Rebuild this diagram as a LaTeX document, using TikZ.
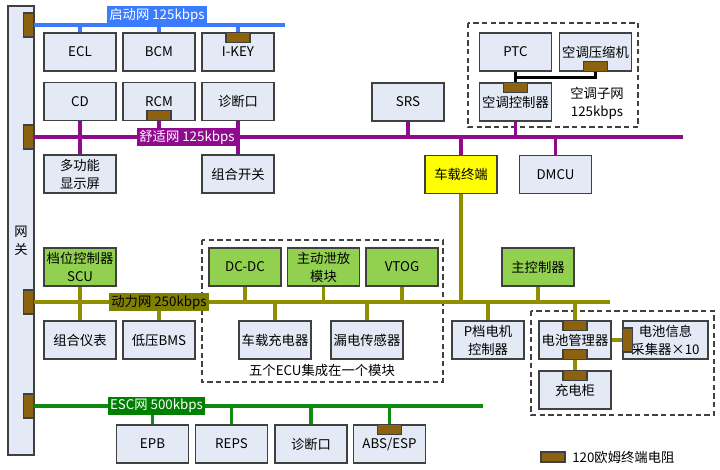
\documentclass[tikz,border=0pt]{standalone}
\usepackage{fontspec}
\setmainfont{Noto Sans CJK SC}
\usetikzlibrary{positioning}

\definecolor{boxfill}{HTML}{E4EAF5}
\definecolor{boxline}{HTML}{404040}
\definecolor{ecugreen}{HTML}{92D050}
\definecolor{tboxyellow}{HTML}{FFFF00}
\definecolor{termbrown}{HTML}{8C6210}
\definecolor{qdblue}{HTML}{3A7BFF}
\definecolor{sspurple}{HTML}{8E0B8E}
\definecolor{dlolive}{HTML}{8F8F00}
\definecolor{dlshade}{HTML}{7F7F00}
\definecolor{escgreen}{HTML}{0E8A0E}
\definecolor{escshade}{HTML}{008000}

\tikzset{
  every node/.style={font=\fontsize{10pt}{13.5pt}\selectfont, align=center},
  ecu/.style={draw=boxline, fill=boxfill, line width=1.3pt, minimum width=54pt,
    minimum height=28.5pt, inner sep=0pt},
  ecugreen/.style={ecu, fill=ecugreen},
  term/.style={draw=boxline, fill=termbrown, line width=0.8pt, minimum width=18pt,
    minimum height=7.5pt, inner sep=0pt},
  termv/.style={term, minimum width=7.5pt, minimum height=18pt},
  buslabel/.style={inner sep=1.5pt, minimum height=14pt, text=white},
  qdbus/.style={draw=qdblue, line width=2.3pt},
  ssbus/.style={draw=sspurple, line width=2.3pt},
  dlbus/.style={draw=dlolive, line width=2.3pt},
  escbus/.style={draw=escgreen, line width=2.3pt},
  acbus/.style={draw=black, line width=2.2pt},
  group/.style={draw=boxline, line width=0.9pt, dash pattern=on 4pt off 2.5pt},
}

\begin{document}
\begin{tikzpicture}[x=0.75pt,y=-0.75pt]
\useasboundingbox (0,0) rectangle (720,469);

% gateway
\node[ecu, minimum width=19.5pt, minimum height=336.75pt] (gw) at (21,230.5) {};
\node (gwtext) at (21,241) {网\\关};
\node[termv, anchor=east] (gwqd) at (34,25) {};
\node[termv, anchor=east] (gwss) at (34,137) {};
\node[termv, anchor=east] (gwdl) at (34,302) {};
\node[termv, anchor=east] (gwesc) at (34,406) {};

% start network
\node[ecu] (ecl) at (80,52) {ECL};
\node[ecu] (bcm) at (159,52) {BCM};
\node[ecu] (ikey) at (238,52) {I-KEY};
\node[term, anchor=north] (ikeyterm) at (ikey.north) {};

% comfort network
\node[ecu] (cd) at (80,101.5) {CD};
\node[ecu] (rcm) at (159,101.5) {RCM};
\node[term, anchor=south] (rcmterm) at (rcm.south) {};
\node[ecu] (diag) at (238,101.5) {诊断口};
\node[ecu] (mfd) at (80,174) {多功能\\显示屏};
\node[ecu] (combo) at (238,174) {组合开关};
\node[ecu] (srs) at (408,102) {SRS};
\node[ecu, fill=tboxyellow] (tbox) at (461,174.5) {车载终端};
\node[ecu] (dmcu) at (555.5,174.5) {DMCU};

% AC subnet
\draw[group] (468,23) rectangle (638,127);
\node[ecu] (ptc) at (515.5,52) {PTC};
\node[ecu] (accomp) at (595.5,52) {空调压缩机};
\node[term, anchor=south] (accompterm) at (accomp.south) {};
\node[ecu] (acctrl) at (515.5,102) {空调控制器};
\node[term, anchor=north] (acctrlterm) at (acctrl.north) {};
\node (acnet) at (597,103) {空调子网\\125kbps};

% power network
\draw[group] (202,240) rectangle (443,382);
\node (ecutext) at (322,370) {五个ECU集成在一个模块};
\node[ecugreen] (scu) at (80,267) {档位控制器\\SCU};
\node[ecu] (cluster) at (80,340) {组合仪表};
\node[ecu] (lvbms) at (159,340) {低压BMS};
\node[ecugreen] (dcdc) at (245,267) {DC-DC};
\node[ecugreen] (bleed) at (323.5,267) {主动泄放\\模块};
\node[ecugreen] (vtog) at (402,267) {VTOG};
\node[ecu] (obc) at (275,340) {车载充电器};
\node[ecu] (leak) at (367,340) {漏电传感器};
\node[ecu] (pmotor) at (488,340) {P档电机\\控制器};
\node[ecugreen] (mainctrl) at (538,267) {主控制器};

% battery
\draw[group] (531,311) rectangle (714,415);
\node[ecu] (bms) at (575,340) {电池管理器};
\node[term, anchor=north] (bmsterma) at (bms.north) {};
\node[term, anchor=south] (bmstermb) at (bms.south) {};
\node[ecu, minimum width=63.75pt] (bic) at (665.5,340) {电池信息\\采集器×10};
\node[termv, anchor=west] (bicterm) at (bic.west) {};
\node[ecu] (charger) at (575,390) {充电柜};
\node[term, anchor=north] (chargerterm) at (charger.north) {};

% ESC network
\node[ecu] (epb) at (152.5,444) {EPB};
\node[ecu] (reps) at (231.5,444) {REPS};
\node[ecu] (diagb) at (311,444) {诊断口};
\node[ecu] (abs) at (389.5,444) {ABS/ESP};
\node[term, anchor=north] (absterm) at (abs.north) {};

% buses
\coordinate (qdend) at (285,25);
\draw[qdbus] (gwqd.east) -- (qdend);
\foreach \n in {ecl,bcm,ikeyterm} \draw[qdbus] (\n.north) -- (\n.north |- qdend);

\coordinate (ssend) at (683,137);
\draw[ssbus] (gwss.east) -- (ssend);
\draw[ssbus] (cd.south) -- (mfd.north);
\draw[ssbus] (diag.south) -- (combo.north);
\foreach \n in {rcmterm,srs,acctrl} \draw[ssbus] (\n.south) -- (\n.south |- ssend);
\foreach \n in {tbox,dmcu} \draw[ssbus] (\n.north) -- (\n.north |- ssend);

\draw[acbus] (ptc.south) -- (acctrlterm.north);
\draw[acbus] (ptc.south) ++(0,6) -| (accompterm.south);

\coordinate (dlend) at (610,302);
\draw[dlbus] (gwdl.east) -- (dlend);
\draw[dlbus] (scu.south) -- (cluster.north);
\draw[dlbus] (tbox.south) -- (tbox.south |- dlend);
\foreach \n in {dcdc,bleed,vtog,mainctrl} \draw[dlbus] (\n.south) -- (\n.south |- dlend);
\foreach \n in {lvbms,obc,leak,pmotor,bmsterma} \draw[dlbus] (\n.north) -- (\n.north |- dlend);
\draw[dlbus] (bmstermb.south) -- (chargerterm.north);
\draw[dlbus] (bms.east) -- (bicterm.west);

\coordinate (escend) at (483,406);
\draw[escbus] (gwesc.east) -- (escend);
\foreach \n in {epb,reps,diagb,absterm} \draw[escbus] (\n.north) -- (\n.north |- escend);

% bus labels
\node[buslabel, fill=qdblue] (qdlabel) at (157,15) {启动网 125kbps};
\node[buslabel, fill=sspurple] (sslabel) at (187,137) {舒适网 125kbps};
\node[buslabel, fill=dlshade, text=black] (dllabel) at (159,302) {动力网 250kbps};
\node[buslabel, fill=escshade] (esclabel) at (156.5,406) {ESC网 500kbps};

% legend
\node[term] (legterm) at (553,457) {};
\node[right=1.5pt of legterm] (legtext) {120欧姆终端电阻};
\end{tikzpicture}
\end{document}
